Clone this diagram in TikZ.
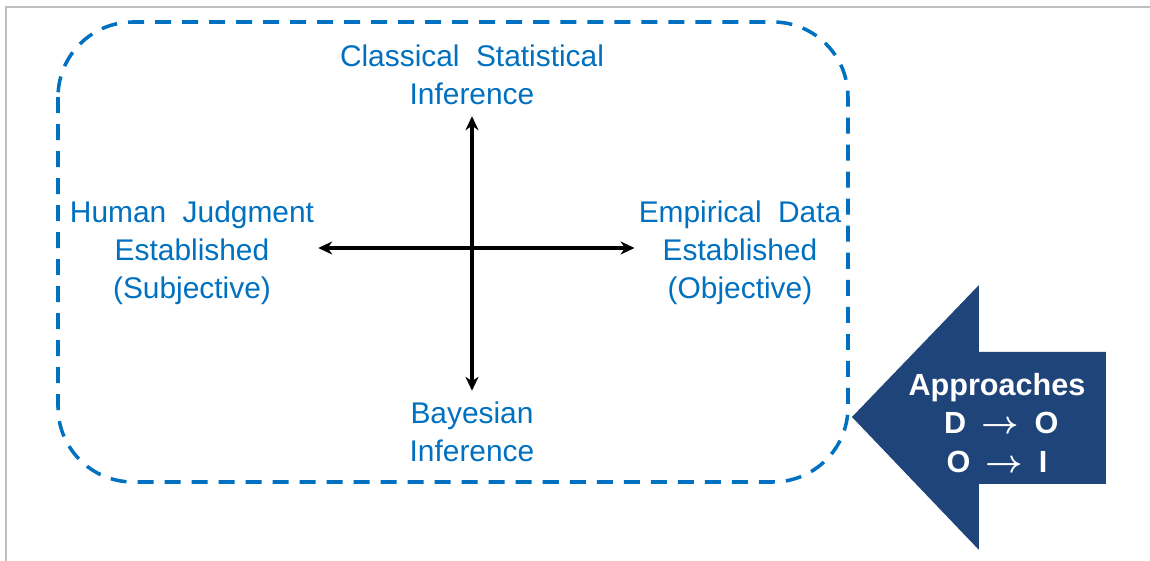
\documentclass[tikz,border=0pt]{standalone}
\usepackage{fontspec}
\setmainfont{Liberation Sans}
\usetikzlibrary{arrows.meta,positioning}
\definecolor{axisblue}{HTML}{0070C0}
\definecolor{navy}{HTML}{1F4479}
\definecolor{framegray}{HTML}{BFBFBF}
\newcommand\widewords{\spaceskip=0.55em plus 0pt\relax}
\newcommand\tofrom{\hspace{2pt}{\boldmath$\rightarrow$}\hspace{2pt}}

\begin{document}
\begin{tikzpicture}[x=0.01cm,y=-0.01cm,
  lbl/.style={align=center,text=axisblue,inner xsep=1pt,inner ysep=3pt,
    font={\fontsize{8.5}{10.8}\selectfont\widewords}},
  ax/.style={line width=0.9pt,{Stealth[length=1.4mm,width=1.3mm]}-{Stealth[length=1.4mm,width=1.3mm]}}]
  \useasboundingbox (0,0) rectangle (1150,561);
  \draw[framegray,line width=0.4pt] (6,561) -- (6,7) -- (1150,7);
  % dashed frame round the four labels
  \draw[axisblue,line width=1pt,dash pattern=on 0.16cm off 0.11cm,rounded corners=0.75cm]
    (58,22) rectangle (848,482);
  \coordinate (o) at (472,248);
  \node[lbl] (cs) at (472,75) {Classical Statistical\\Inference};
  \node[lbl] (bi) at (472,432) {Bayesian\\Inference};
  \node[lbl] (hj) at (192,253) {Human Judgment\\Established\\(Subjective)};
  \node[lbl] (ed) at (740,253) {Empirical Data\\Established\\(Objective)};
  \draw[ax] (o -| hj.east) -- (o -| ed.west);
  \draw[ax] (cs.south -| o) -- (bi.north -| o);
  % big arrow pointing at the frame
  \fill[navy] (852,417) -- (979,285) -- (979,352) -- (1106,352) -- (1106,484)
    -- (979,484) -- (979,550) -- cycle;
  \node[align=center,text=white,font={\fontsize{8.7}{11}\selectfont\bfseries}] (ap) at (997,423)
    {Approaches\\\ D \tofrom{} O\\O \tofrom{} I};
\end{tikzpicture}
\end{document}
